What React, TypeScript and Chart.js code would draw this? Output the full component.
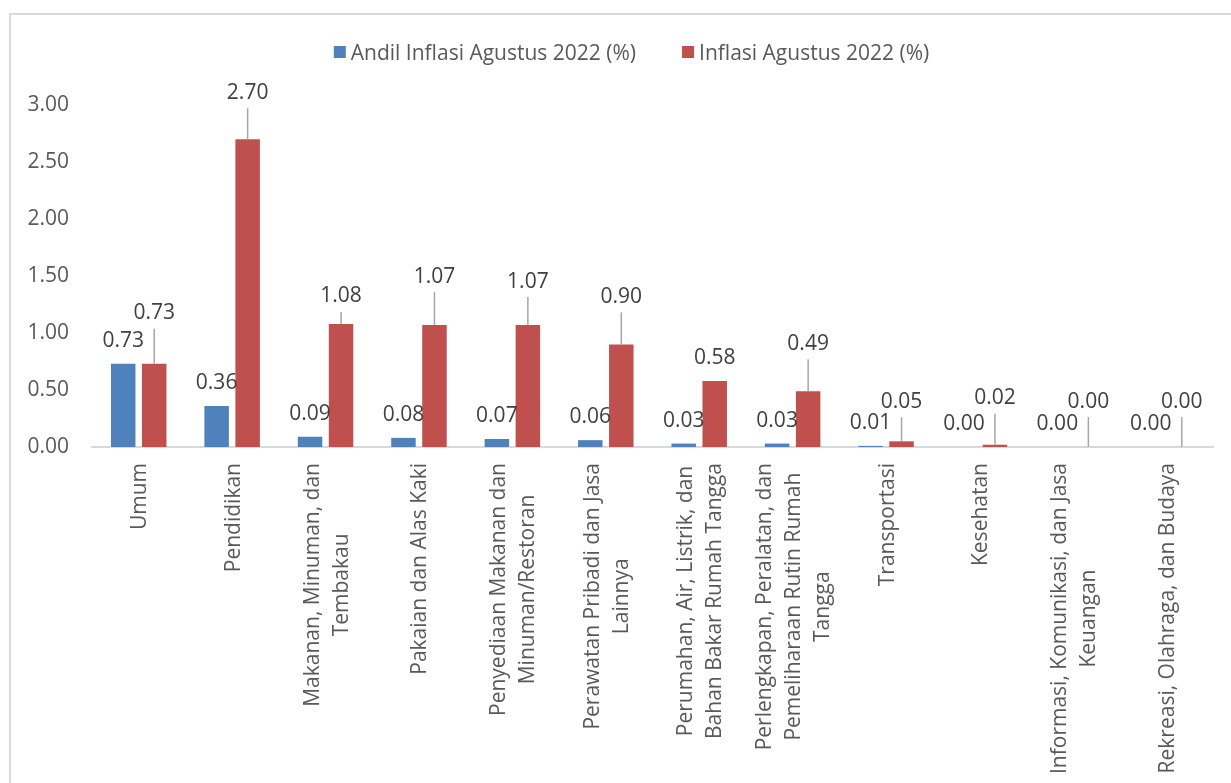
import React, { useEffect, useRef } from "react";
import { Chart, registerables } from "chart.js";

Chart.register(...registerables);

// ---- data ----
const categories: string[][] = [
  ["Umum"],
  ["Pendidikan"],
  ["Makanan, Minuman, dan", "Tembakau"],
  ["Pakaian dan Alas Kaki"],
  ["Penyediaan Makanan dan", "Minuman/Restoran"],
  ["Perawatan Pribadi dan Jasa", "Lainnya"],
  ["Perumahan, Air, Listrik, dan", "Bahan Bakar Rumah Tangga"],
  ["Perlengkapan, Peralatan, dan", "Pemeliharaan Rutin Rumah", "Tangga"],
  ["Transportasi"],
  ["Kesehatan"],
  ["Informasi, Komunikasi, dan Jasa", "Keuangan"],
  ["Rekreasi, Olahraga, dan Budaya"],
];
const andilValues = [0.73, 0.36, 0.09, 0.08, 0.07, 0.06, 0.03, 0.03, 0.01, 0.0, 0.0, 0.0];
const inflasiValues = [0.73, 2.7, 1.08, 1.07, 1.07, 0.9, 0.58, 0.49, 0.05, 0.02, 0.0, 0.0];
const seriesNames = ["Andil Inflasi Agustus 2022 (%)", "Inflasi Agustus 2022 (%)"];
const yTickValues = [0, 0.5, 1, 1.5, 2, 2.5, 3];

// ---- styling (label placement, px above bar top) ----
const andilLabelRaise = 24.5;
const inflasiLabelRaise = [52, 48, 29, 50, 45, 49, 24, 49, 41, 48, 47, 47];
const seriesColors = ["#4f81bd", "#c0504d"];
const FONT = "'Open Sans', sans-serif";
const FONT_SIZE = 21;
const CAP_HALF = 7.5;
const LEGEND_CENTER_X = 631.5;
const LEGEND_CENTER_Y = 52;

const decoPlugin = {
  id: "deco",
  beforeDraw(chart: any) {
    const ctx = chart.ctx;
    ctx.save();
    ctx.fillStyle = "#ffffff";
    ctx.fillRect(0, 0, chart.width, chart.height);
    ctx.strokeStyle = "#d9d9d9";
    ctx.lineWidth = 2;
    ctx.strokeRect(10, 14, chart.width + 40, chart.height + 40);
    ctx.restore();
  },
  afterDatasetsDraw(chart: any) {
    const ctx = chart.ctx;
    ctx.save();
    ctx.font = `${FONT_SIZE}px ${FONT}`;
    ctx.textAlign = "center";
    ctx.textBaseline = "alphabetic";
    ctx.fillStyle = "#404040";
    const m0 = chart.getDatasetMeta(0);
    m0.data.forEach((bar: any, i: number) => {
      const cy = bar.y - andilLabelRaise;
      ctx.fillText(andilValues[i].toFixed(2), bar.x, cy + CAP_HALF);
    });
    const m1 = chart.getDatasetMeta(1);
    m1.data.forEach((bar: any, i: number) => {
      const raise = inflasiLabelRaise[i];
      const cy = bar.y - raise;
      ctx.fillStyle = "#404040";
      ctx.fillText(inflasiValues[i].toFixed(2), bar.x, cy + CAP_HALF);
      if (raise > 27) {
        ctx.strokeStyle = "#a6a6a6";
        ctx.lineWidth = 1.5;
        ctx.beginPath();
        ctx.moveTo(bar.x, cy + 17);
        ctx.lineTo(bar.x, bar.y);
        ctx.stroke();
      }
    });
    ctx.restore();
  },
  afterDraw(chart: any) {
    const ctx = chart.ctx;
    const xs = chart.scales.x;
    ctx.save();
    ctx.font = `${FONT_SIZE}px ${FONT}`;
    ctx.fillStyle = "#595959";
    // category labels (rotated, centered multi-line)
    const top = chart.chartArea.bottom + 16;
    categories.forEach((lines, i) => {
      const cx = xs.getPixelForValue(i);
      const w = Math.max(...lines.map((l) => ctx.measureText(l).width));
      ctx.save();
      ctx.translate(cx, top);
      ctx.rotate(-Math.PI / 2);
      ctx.textAlign = "center";
      ctx.textBaseline = "alphabetic";
      lines.forEach((l, j) => {
        const ly = (j - (lines.length - 1) / 2) * 29 + CAP_HALF;
        ctx.fillText(l, -w / 2, ly);
      });
      ctx.restore();
    });
    // legend
    const box = 12;
    const gapText = 5;
    const gapItems = 46;
    const widths = seriesNames.map((s) => ctx.measureText(s).width);
    const total = widths.reduce((a, w) => a + box + gapText + w, 0) + gapItems * (seriesNames.length - 1);
    let x = LEGEND_CENTER_X - total / 2;
    ctx.textAlign = "left";
    ctx.textBaseline = "alphabetic";
    seriesNames.forEach((s, i) => {
      ctx.fillStyle = seriesColors[i];
      ctx.fillRect(x, LEGEND_CENTER_Y - box / 2, box, box);
      ctx.fillStyle = "#595959";
      ctx.fillText(s, x + box + gapText, LEGEND_CENTER_Y + CAP_HALF);
      x += box + gapText + widths[i] + gapItems;
    });
    ctx.restore();
  },
};

export default function App() {
  const canvasRef = useRef<HTMLCanvasElement | null>(null);

  useEffect(() => {
    if (!canvasRef.current) return;
    const chart = new Chart(canvasRef.current, {
      type: "bar",
      data: {
        labels: categories.map((c) => c.join(" ")),
        datasets: [
          {
            label: seriesNames[0],
            data: andilValues,
            backgroundColor: seriesColors[0],
            borderWidth: 0,
            categoryPercentage: 0.664,
            barPercentage: 0.79,
          },
          {
            label: seriesNames[1],
            data: inflasiValues,
            backgroundColor: seriesColors[1],
            borderWidth: 0,
            categoryPercentage: 0.664,
            barPercentage: 0.79,
          },
        ],
      },
      options: {
        responsive: false,
        animation: false,
        devicePixelRatio: 1,
        layout: { padding: { top: 105, left: 0, right: 18, bottom: 336 } },
        plugins: {
          legend: { display: false },
          tooltip: { enabled: false },
          title: { display: false },
        },
        scales: {
          x: {
            grid: { display: false, drawTicks: false },
            ticks: { display: false },
            border: { display: true, color: "#d9d9d9", width: 2 },
          },
          y: {
            min: 0,
            max: 3,
            afterBuildTicks: (scale: any) => {
              scale.ticks = yTickValues.map((v) => ({ value: v }));
            },
            afterFit: (scale: any) => {
              scale.width = 92;
            },
            grid: { display: false, drawTicks: false },
            border: { display: false },
            ticks: {
              padding: 23,
              color: "#595959",
              font: { family: FONT, size: FONT_SIZE },
              callback: (v: any) => Number(v).toFixed(2),
            },
          },
        },
      },
      plugins: [decoPlugin],
    });
    return () => chart.destroy();
  }, []);

  return (
    <div style={{ position: "absolute", left: 0, top: 0, width: 1231, height: 783, overflow: "hidden" }}>
      <canvas ref={canvasRef} width={1231} height={783} style={{ display: "block" }} />
    </div>
  );
}
